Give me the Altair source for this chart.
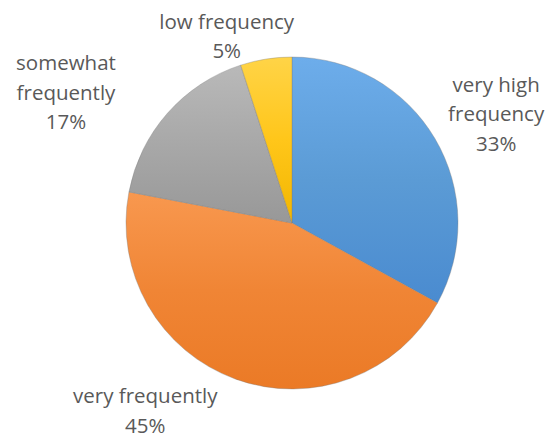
import altair as alt
import pandas as pd

categories = ["very high frequency", "very frequently", "somewhat frequently", "low frequency"]
values = [33, 45, 17, 5]
label_lines = [["very high", "frequency", "33%"],
               ["very frequently", "45%"],
               ["somewhat", "frequently", "17%"],
               ["low frequency", "5%"]]
# (light, base, dark) shades per slice
shades = [("#6DADEB", "#5B9BD5", "#4A8BD0"),
          ("#F8984F", "#F08535", "#EB7A26"),
          ("#B9B9B9", "#A8A8A8", "#989898"),
          ("#FFD447", "#FFC61A", "#F2B600")]

df = pd.DataFrame({
    "category": categories,
    "value": values,
    "order": list(range(len(categories))),
    "label": label_lines,
})

W, H = 506, 430
PAD_LEFT = 31
R = 166
LH = 29.5

theta_scale = alt.Scale(domain=[0, sum(values)])

base = alt.Chart(df).transform_window(
    cum="sum(value)", sort=[alt.SortField("order")]
).transform_calculate(
    start="datum.cum - datum.value",
    mid="datum.cum - datum.value / 2",
)

layers = []
for cat, (light, mid_c, dark) in zip(categories, shades):
    grad = alt.LinearGradient(
        gradient="linear",
        stops=[alt.GradientStop(offset=0, color=light),
               alt.GradientStop(offset=0.5, color=mid_c),
               alt.GradientStop(offset=1, color=dark)],
        x1=0, x2=0, y1=0, y2=1,
    )
    slice_ = base.transform_filter(alt.datum.category == cat).mark_arc(
        outerRadius=R, fill=grad, stroke="#7a7a7a", strokeWidth=0.6, strokeOpacity=0.6,
    ).encode(
        theta=alt.Theta("start:Q", scale=theta_scale, stack=False),
        theta2="cum:Q",
    )
    layers.append(slice_)

# label placement (layout only): (dx, dy) offsets from slice mid-angle at radius 200,
# dy given for the block centre; first line is shifted up by half the block height
offsets = {
    "very high frequency": (32, -6, 3),
    "very frequently": (-79, 1, 2),
    "somewhat frequently": (-76, 3, 3),
    "low frequency": (-34, 12, 2),
}

for cat in categories:
    dx, dy, n = offsets[cat]
    lbl = base.transform_filter(
        alt.datum.category == cat
    ).mark_text(
        font="Open Sans", fontSize=20.5, color="#595959", align="center",
        baseline="middle", lineHeight=LH, dx=dx, dy=dy - (n - 1) * LH / 2,
    ).encode(
        theta=alt.Theta("mid:Q", stack=False, scale=theta_scale),
        radius=alt.value(200),
        text="label",
    )
    layers.append(lbl)

chart = alt.layer(*layers).properties(
    width=W, height=H,
    padding={"left": PAD_LEFT, "top": 0, "right": 0, "bottom": 4},
    autosize=alt.AutoSizeParams(type="none"),
).configure_view(stroke=None)

chart.save("out.html", embed_options={"renderer": "svg", "actions": False})
